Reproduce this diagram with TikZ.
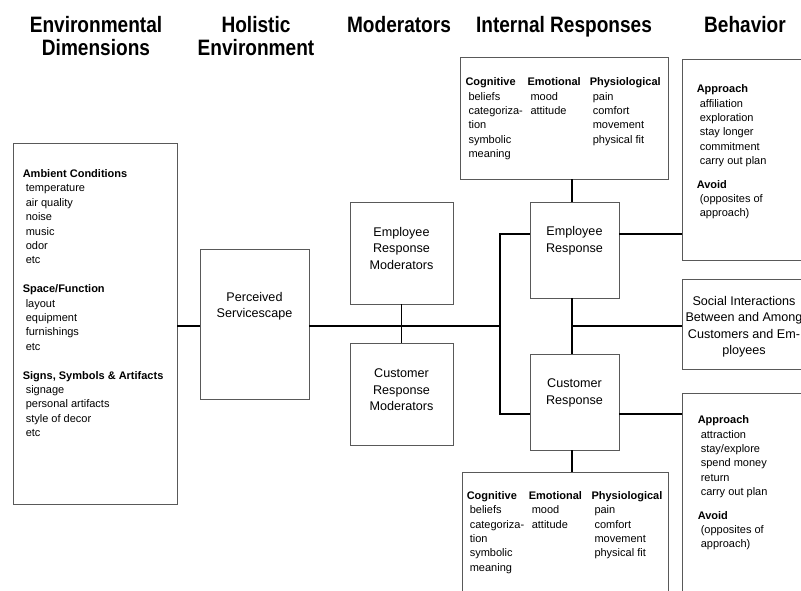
\documentclass[tikz,border=0pt]{standalone}
\usepackage{fontspec}
\setmainfont{Liberation Sans}
\newfontfamily\headfont[FakeStretch=0.855]{Liberation Sans}
\usetikzlibrary{calc,positioning}

\newcommand{\lsitem}[1]{\hspace*{3pt}#1}

\tikzset{
  box/.style={draw=black!65, line width=0.8pt, fill=white, inner sep=0pt},
  link/.style={draw=black, line width=1.3pt},
  heading/.style={font=\headfont\fontsize{22.3}{23.3}\selectfont\bfseries, align=center, inner sep=0pt, anchor=north},
  boxtext/.style={font=\fontsize{12.6}{16.5}\selectfont, align=center, inner sep=0pt},
  listtext/.style={font=\fontsize{11}{14.4}\selectfont, align=left, inner sep=0pt, anchor=north west}
}

\begin{document}
\begin{tikzpicture}[x=1pt, y=-1pt]
        \path[use as bounding box, fill=white] (0,0) rectangle (801,591);
        \clip (0,0) rectangle (801,591);
        % column headings
        \node[heading] (tenv) at (96,16.2) {Environmental\\Dimensions};
        \node[heading] (thol) at (256,16.2) {Holistic\\Environment};
        \node[heading] (tmod) at (399,16.2) {Moderators};
        \node[heading] (tint) at (564,16.2) {Internal Responses};
        \node[heading] (tbeh) at (745,16.2) {Behavior};
        % boxes
        \node[box, minimum width=164pt, minimum height=361pt] (env) at (95,323.5) {};
        \node[box, minimum width=109pt, minimum height=150pt] (perc) at (254.5,324) {};
        \node[box, minimum width=103pt, minimum height=102pt] (empmod) at (401.5,253) {};
        \node[box, minimum width=103pt, minimum height=102pt] (cusmod) at (401.5,394) {};
        \node[box, minimum width=89pt, minimum height=96pt] (empresp) at (574.5,250) {};
        \node[box, minimum width=89pt, minimum height=96pt] (cusresp) at (574.5,402) {};
        \node[box, minimum width=126pt, minimum height=90pt] (social) at (745,324) {};
        \node[box, minimum width=208pt, minimum height=122pt] (inttop) at (564,118) {};
        \node[box, minimum width=206pt, minimum height=148pt] (intbot) at (565,546) {};
        \node[box, minimum width=140pt, minimum height=201pt] (behtop) at (752,159.5) {};
        \node[box, minimum width=140pt, minimum height=227pt] (behbot) at (752,506.5) {};
        % texts
        \node[listtext] (envtxt) at ($(env.north west)+(10,26.8)$) {\textbf{Ambient Conditions}\\
          \lsitem{temperature}\\ \lsitem{air quality}\\ \lsitem{noise}\\ \lsitem{music}\\ \lsitem{odor}\\ \lsitem{etc}\\[14.4pt]
          \textbf{Space/Function}\\
          \lsitem{layout}\\ \lsitem{equipment}\\ \lsitem{furnishings}\\ \lsitem{etc}\\[14.4pt]
          \textbf{Signs, Symbols \& Artifacts}\\
          \lsitem{signage}\\ \lsitem{personal artifacts}\\ \lsitem{style of decor}\\ \lsitem{etc}};
        \node[boxtext] (perctxt) at ($(perc.north)+(0,57.5)$) {Perceived\\Servicescape};
        \node[boxtext] (empmodtxt) at ($(empmod)+(0,-5)$) {Employee\\Response\\Moderators};
        \node[boxtext] (cusmodtxt) at ($(cusmod)+(0,-4)$) {Customer\\Response\\Moderators};
        \node[boxtext] (emprtxt) at ($(empresp)+(0,-9.3)$) {Employee\\Response};
        \node[boxtext] (cusrtxt) at ($(cusresp)+(0,-9)$) {Customer\\Response};
        \node[boxtext] (socialtxt) at ($(social)+(-1,2.7)$) {Social Interactions\\Between and Among\\Customers and Em-\\ployees};
        \node[listtext] (cogtop) at ($(inttop.north west)+(5.7,21)$) {\textbf{Cognitive}\\
          \lsitem{beliefs}\\ \lsitem{categoriza-}\\ \lsitem{tion}\\ \lsitem{symbolic}\\ \lsitem{meaning}};
        \node[listtext] (emotop) at ($(inttop.north west)+(67.7,21)$) {\textbf{Emotional}\\
          \lsitem{mood}\\ \lsitem{attitude}};
        \node[listtext] (phytop) at ($(inttop.north west)+(130,21)$) {\textbf{Physiological}\\
          \lsitem{pain}\\ \lsitem{comfort}\\ \lsitem{movement}\\ \lsitem{physical fit}};
        \node[listtext] (cogbot) at ($(intbot.north west)+(5,19.5)$) {\textbf{Cognitive}\\
          \lsitem{beliefs}\\ \lsitem{categoriza-}\\ \lsitem{tion}\\ \lsitem{symbolic}\\ \lsitem{meaning}};
        \node[listtext] (emobot) at ($(intbot.north west)+(67,19.5)$) {\textbf{Emotional}\\
          \lsitem{mood}\\ \lsitem{attitude}};
        \node[listtext] (phybot) at ($(intbot.north west)+(129.7,19.5)$) {\textbf{Physiological}\\
          \lsitem{pain}\\ \lsitem{comfort}\\ \lsitem{movement}\\ \lsitem{physical fit}};
        \node[listtext] (behtoptxt) at ($(behtop.north west)+(15,26)$) {\textbf{Approach}\\
          \lsitem{affiliation}\\ \lsitem{exploration}\\ \lsitem{stay longer}\\ \lsitem{commitment}\\ \lsitem{carry out plan}\\[9pt]
          \textbf{Avoid}\\ \lsitem{(opposites of}\\ \lsitem{approach)}};
        \node[listtext] (behbottxt) at ($(behbot.north west)+(16,23)$) {\textbf{Approach}\\
          \lsitem{attraction}\\ \lsitem{stay/explore}\\ \lsitem{spend money}\\ \lsitem{return}\\ \lsitem{carry out plan}\\[9pt]
          \textbf{Avoid}\\ \lsitem{(opposites of}\\ \lsitem{approach)}};
        % connectors
        \coordinate (jmod) at (401.5,326);
        \coordinate (jresp) at (500,326);
        \coordinate (eline) at (0,234);
        \coordinate (cline) at (0,414);
        \coordinate (spine) at (572,0);
        \draw[link] (env.east |- jmod) -- (perc.west |- jmod);
        \draw[link] (perc.east |- jmod) -- (jresp);
        \draw[link] (empmod.south) -- (cusmod.north);
        \draw[link] (eline -| empresp.west) -| (jresp) |- (cline -| cusresp.west);
        \draw[link] (eline -| empresp.east) -- (eline -| behtop.west);
        \draw[link] (cline -| cusresp.east) -- (cline -| behbot.west);
        \draw[link] (empresp.south -| spine) -- (cusresp.north -| spine);
        \draw[link] (spine |- jmod) -- (social.west |- jmod);
        \draw[link] (inttop.south -| spine) -- (empresp.north -| spine);
        \draw[link] (cusresp.south -| spine) -- (intbot.north -| spine);
    \end{tikzpicture}
\end{document}
